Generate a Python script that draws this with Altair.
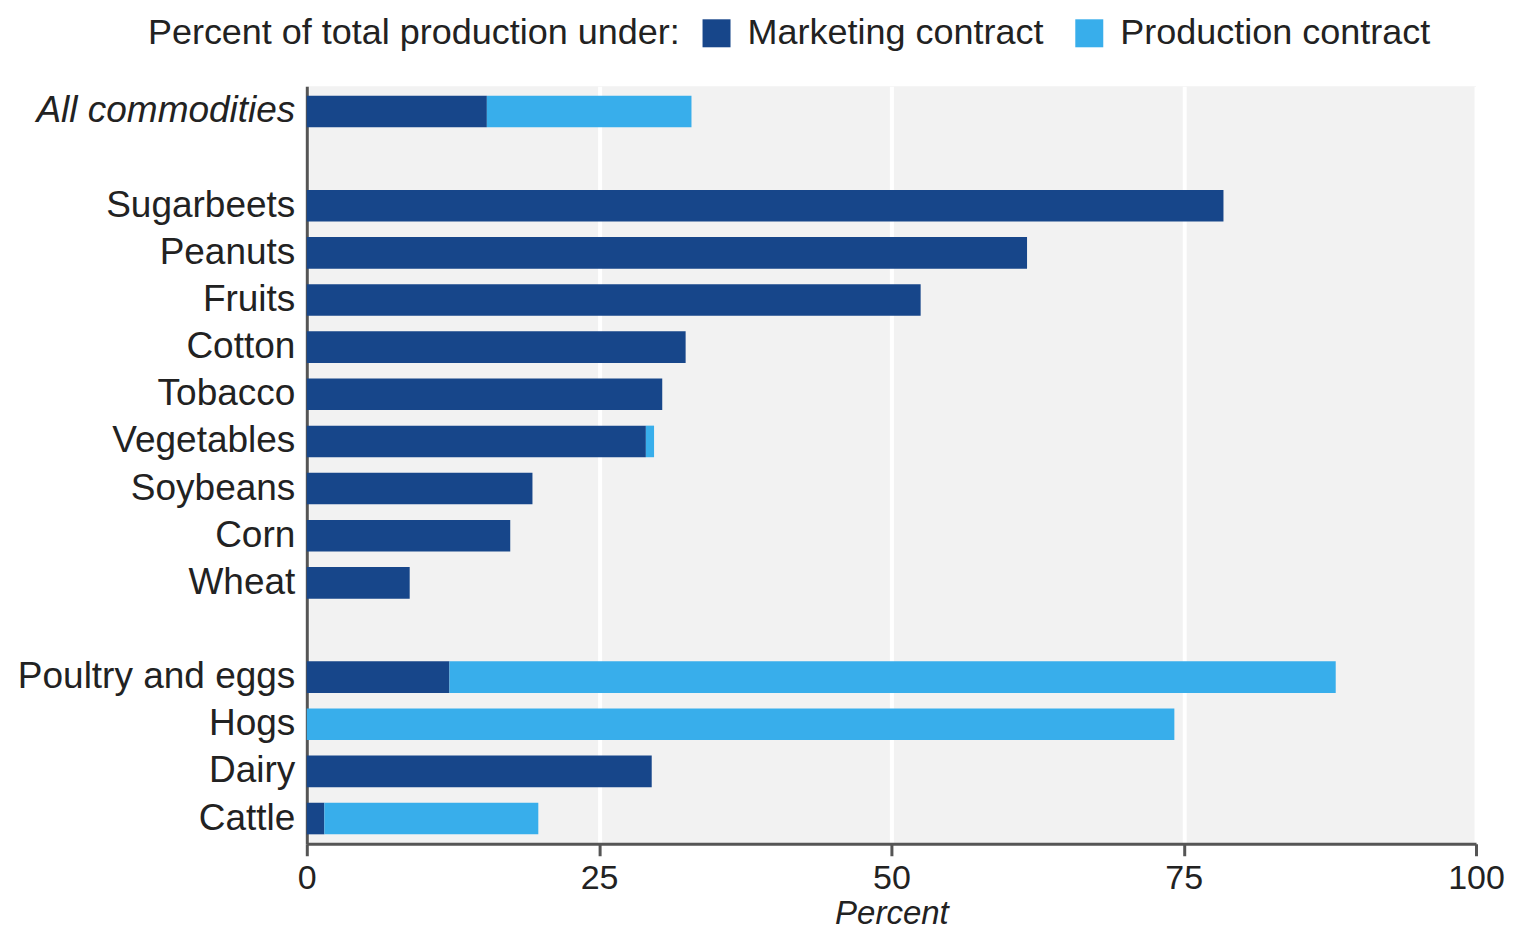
import altair as alt
import pandas as pd

commodities = ["All commodities", " ", "Sugarbeets", "Peanuts", "Fruits", "Cotton", "Tobacco",
               "Vegetables", "Soybeans", "Corn", "Wheat", "  ", "Poultry and eggs", "Hogs",
               "Dairy", "Cattle"]
data_commodities = ["All commodities", "Sugarbeets", "Peanuts", "Fruits", "Cotton", "Tobacco",
                    "Vegetables", "Soybeans", "Corn", "Wheat", "Poultry and eggs", "Hogs",
                    "Dairy", "Cattle"]
marketing = [15.4, 78.4, 61.6, 52.5, 32.4, 30.4, 29.0, 19.3, 17.4, 8.8, 12.2, 0.0, 29.5, 1.5]
production = [17.5, 0.0, 0.0, 0.0, 0.0, 0.0, 0.7, 0.0, 0.0, 0.0, 75.8, 74.2, 0.0, 18.3]
series = ["Marketing contract", "Production contract"]
colors = ["#17468a", "#38aeeb"]

rows = []
for c, m, p in zip(data_commodities, marketing, production):
    rows.append({"Commodity": c, "Type": series[0], "Value": m, "Order": 0})
    rows.append({"Commodity": c, "Type": series[1], "Value": p, "Order": 1})
df = pd.DataFrame(rows)

FONT = "Liberation Sans"

chart = alt.Chart(df).mark_bar().encode(
    y=alt.Y("Commodity:N",
            scale=alt.Scale(domain=commodities, paddingInner=0.33, paddingOuter=0.2),
            axis=alt.Axis(title=None, ticks=False, labelFontSize=37, labelFont=FONT,
                          labelColor="#222222", labelPadding=12, labelLimit=600,
                          domainColor="#555555", domainWidth=3, grid=False,
                          labelFontStyle={"expr": "datum.value === 'All commodities' ? 'italic' : 'normal'"})),
    x=alt.X("Value:Q", stack="zero",
            scale=alt.Scale(domain=[0, 100], nice=False),
            axis=alt.Axis(title="Percent", titleFontStyle="italic", titleFontWeight="normal",
                          titleFontSize=33, titleFont=FONT, titleColor="#222222", titlePadding=2,
                          values=[0, 25, 50, 75, 100], labelFontSize=34, labelFont=FONT,
                          labelColor="#222222", labelFlush=False, tickSize=12, tickWidth=3,
                          tickColor="#555555", domainColor="#555555", domainWidth=3,
                          labelPadding=6, grid=True, gridColor="#ffffff", gridWidth=4)),
    color=alt.Color("Type:N", scale=alt.Scale(domain=series, range=colors),
                    legend=alt.Legend(title="Percent of total production under:", orient="none",
                                      direction="horizontal", titleOrient="left",
                                      legendX=-159, legendY=-71, titleLimit=900,
                                      titleFontSize=36, titleFont=FONT, titleFontWeight="normal",
                                      titleColor="#222222", labelFontSize=36, labelFont=FONT,
                                      labelColor="#222222", symbolType="square", symbolSize=784,
                                      symbolStrokeWidth=0, symbolOpacity=1, titlePadding=18,
                                      labelOffset=13, columnPadding=27, labelLimit=500)),
    order=alt.Order("Order:Q"),
).properties(
    width=1170, height=758,
    autosize=alt.AutoSizeParams(type="none"),
    padding={"left": 299, "top": 78, "right": 30, "bottom": 89},
).configure_view(fill="#f2f2f2", stroke=None)

chart.save("out.html", embed_options={"renderer": "svg", "actions": False})
